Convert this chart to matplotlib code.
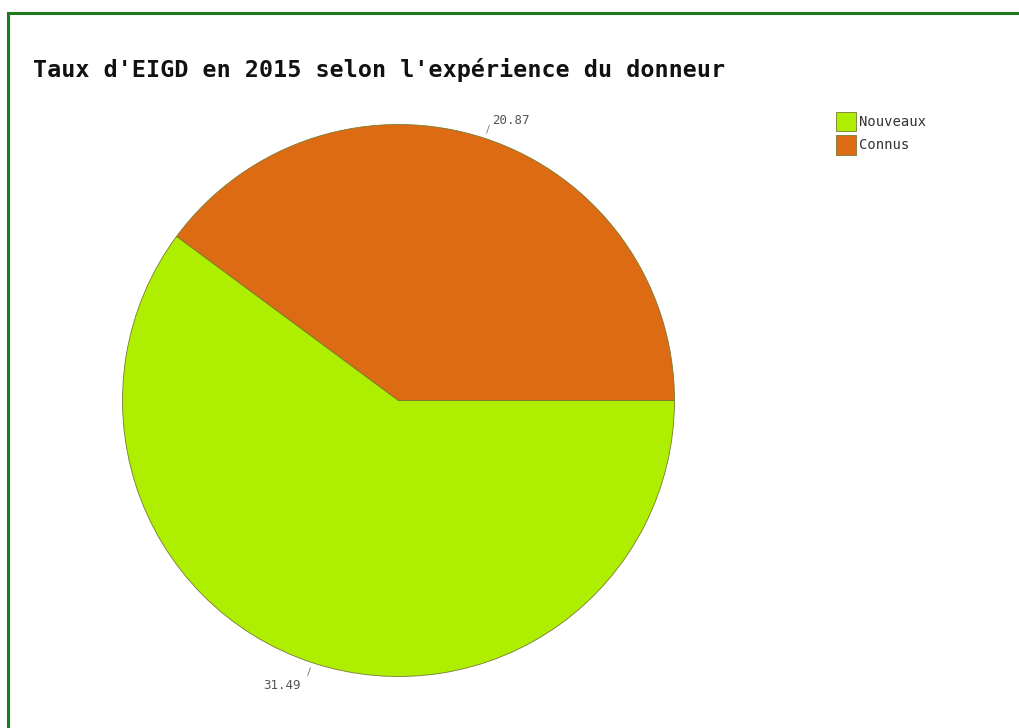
import numpy as np
import matplotlib
matplotlib.use('Agg')
import matplotlib.pyplot as plt
from matplotlib.lines import Line2D

# rates by donor experience
categories = ['Nouveaux', 'Connus']
rates = [31.49, 20.87]
colors = ['#aeee00', '#dd6b13']

W, H = 1020, 728
fig = plt.figure(figsize=(W / 100, H / 100), dpi=100, facecolor='white')

# green frame (top and left edges)
fig.add_artist(Line2D([8 / W, 1.0], [1 - 13 / H, 1 - 13 / H], transform=fig.transFigure,
                      color='#1e7b1e', lw=2.2))
fig.add_artist(Line2D([8 / W, 8 / W], [1 - 13 / H, 0.0], transform=fig.transFigure,
                      color='#1e7b1e', lw=2.2))

fig.text(33 / W, 1 - 70 / H, "Taux d'EIGD en 2015 selon l'expérience du donneur",
         family='DejaVu Sans Mono', fontweight='bold', fontsize=16.8,
         ha='left', va='center', color='#111111')

# pie: centre at (398, 400) px, radius 276 px
cx, cy, r = 398.5, 400.5, 276
ax = fig.add_axes([(cx - r) / W, (H - cy - r) / H, 2 * r / W, 2 * r / H])
start = 360 * rates[1] / sum(rates)
wedges, _ = ax.pie(rates, colors=colors, startangle=start, counterclock=True,
                   wedgeprops=dict(edgecolor='#7a7a30', linewidth=0.6))
ax.set_xlim(-1, 1)
ax.set_ylim(-1, 1)
ax.axis('off')

# value labels with short leader ticks
for w, val in zip(wedges, rates):
    ang = np.deg2rad((w.theta1 + w.theta2) / 2)
    ca, sa = np.cos(ang), np.sin(ang)
    ax.plot([1.02 * ca, 1.05 * ca], [1.02 * sa, 1.05 * sa], color='#777777', lw=0.6,
            clip_on=False)
    right = ca > 0
    ax.annotate(f'{val:.2f}', xy=(1.055 * ca, 1.055 * sa),
                xytext=(1.7, -2) if right else (-5, -1.5), textcoords='offset points',
                family='DejaVu Sans Mono', fontsize=9, color='#555555',
                ha='left' if right else 'right', va='bottom' if sa > 0 else 'top',
                annotation_clip=False)

fig.legend(wedges, categories, loc='upper left', bbox_to_anchor=(836 / W, 1 - 112 / H),
           frameon=False, prop=dict(family='DejaVu Sans Mono', size=10),
           handlelength=1.44, handleheight=1.75, borderpad=0, borderaxespad=0,
           handletextpad=0.25, labelspacing=0.3, labelcolor='#333333')

fig.savefig('out.png', dpi=100, facecolor='white')
